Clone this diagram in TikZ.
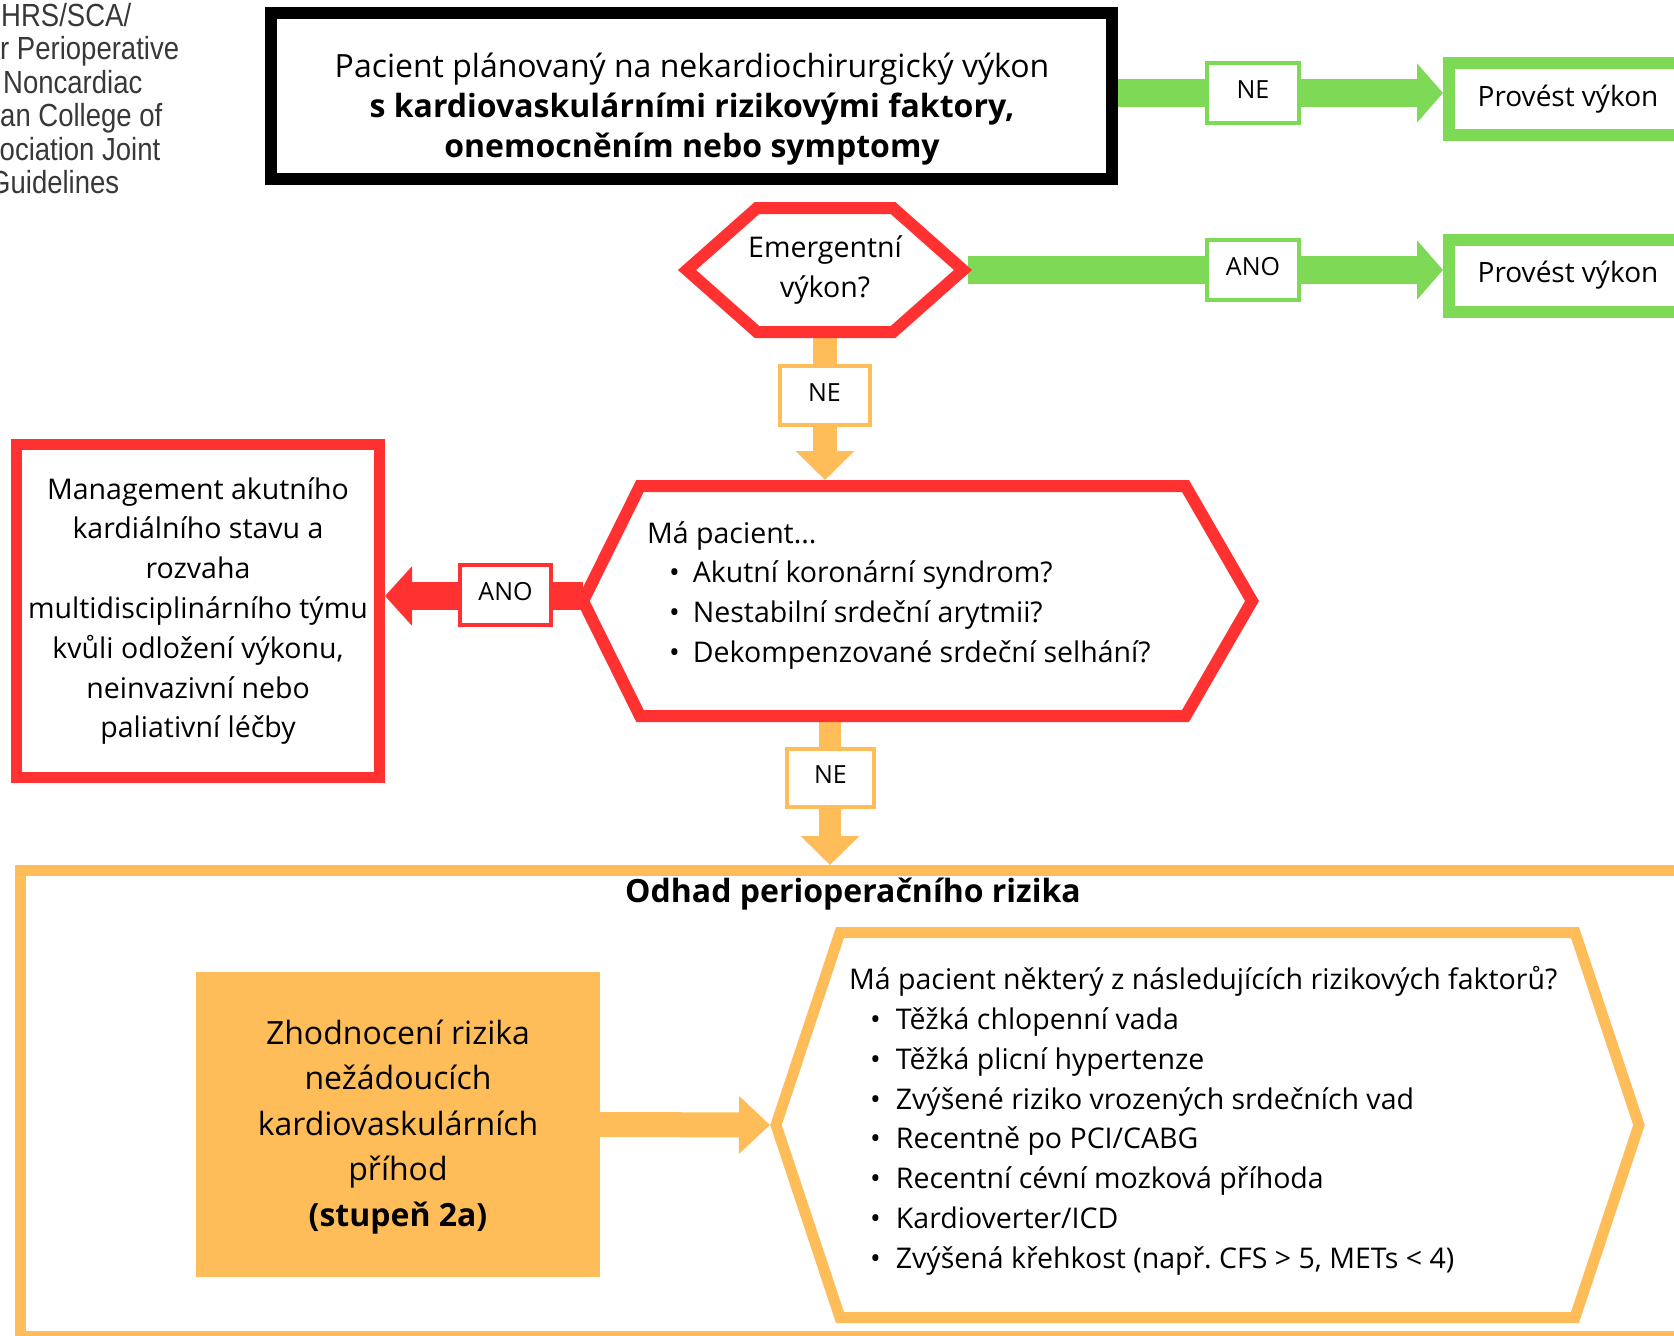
\documentclass[tikz,border=0pt]{standalone}
\usepackage{fontspec}
\setmainfont{Open Sans}
\newfontfamily\guidefont[FakeStretch=0.86]{Liberation Sans}
\usetikzlibrary{arrows.meta,calc}
\definecolor{cgreen}{HTML}{7ED957}
\definecolor{corange}{HTML}{FFBD59}
\definecolor{cred}{HTML}{FF3131}
\pgfdeclarelayer{bg}
\pgfsetlayers{bg,main}
\frenchspacing
\begin{document}
\begin{tikzpicture}[x=1pt,y=-1pt,line join=miter,
  lbl/.style={draw=#1, fill=white, line width=4pt, inner sep=0pt, minimum width=90pt, minimum height=59pt, text height=17.8pt, text depth=6pt, font=\fontsize{25}{30}\selectfont},
  guide/.style={anchor=base west, inner sep=0pt, text=black!78, font=\guidefont\fontsize{32}{33}\selectfont},
  body/.style={inner sep=0pt, font=\fontsize{28.5}{39.8}\selectfont},
  garr/.style={draw=cgreen, line width=28pt, -{Triangle[length=26pt,width=58pt]}},
  rarr/.style={draw=cred, line width=28pt, -{Triangle[length=27pt,width=58pt]}},
  oarr/.style={draw=corange, line width=#1, -{Triangle[length=29pt,width=57pt]}}
]
\useasboundingbox (0,0) rectangle (1674,1336);
\clip (0,0) rectangle (1674,1336);

% guideline caption (cut off at the left edge)
\node[guide] (g1) at (1,26) {HRS/SCA/};
\node[guide] (g2) at (0,59.5) {r Perioperative};
\node[guide] (g3) at (3,93) {Noncardiac};
\node[guide] (g4) at (0,126.5) {an College of};
\node[guide] (g5) at (-0.5,160) {ociation Joint};
\node[guide] (g6) at (-11,193.5) {Guidelines};

% top box
\node[draw=black, line width=12pt, minimum width=841pt, minimum height=166pt, inner sep=0pt] (top) at (691.5,96) {};
\node[inner sep=0pt, align=center, font=\fontsize{32}{40}\selectfont] (toptxt) at (692,109.3)
  {Pacient plánovaný na nekardiochirurgický výkon\\\textbf{s kardiovaskulárními rizikovými faktory,}\\\textbf{onemocněním nebo symptomy}};

% Provést boxes
\node[draw=cgreen, line width=12pt, minimum width=238pt, minimum height=72pt, inner sep=0pt, anchor=west, font=\fontsize{28}{36}\selectfont] (prov1) at (1443,99) {Provést výkon};
\node[draw=cgreen, line width=12pt, minimum width=238pt, minimum height=72pt, inner sep=0pt, anchor=west, font=\fontsize{28}{36}\selectfont] (prov2) at (1443,275.5) {Provést výkon};

% Emergentni hexagon
\draw[cred, line width=12pt, fill=white] (687,270) -- (757,208) -- (893,208) -- (963,270) -- (893,332) -- (757,332) -- cycle;
\node[body, align=center] (emerg) at (825,270) {Emergentní\\výkon?};
\coordinate (emR) at (968,270);
\coordinate (emB) at (825,332);

% Red hexagon
\draw[cred, line width=12pt, fill=white] (583,601) -- (640,486) -- (1185.5,486) -- (1252,601) -- (1185.5,716) -- (640,716) -- cycle;
\node[body, align=left, anchor=west] (mapac) at (647,595.2)
  {Má pacient...\\
   \hspace*{22pt}•\hspace*{13pt}Akutní koronární syndrom?\\
   \hspace*{22pt}•\hspace*{13pt}Nestabilní srdeční arytmii?\\
   \hspace*{22pt}•\hspace*{13pt}Dekompenzované srdeční selhání?};
\coordinate (rhT) at (825,480);
\coordinate (rhL) at (583,596);
\coordinate (rhB) at (830,716);

% Management box
\node[draw=cred, line width=11pt, minimum width=363pt, minimum height=333pt, inner sep=0pt, align=center, font=\fontsize{28.5}{39.8}\selectfont] (mgmt) at (198,611)
  {Management akutního\\kardiálního stavu a\\rozvaha\\multidisciplinárního týmu\\kvůli odložení výkonu,\\neinvazivní nebo\\paliativní léčby};

% Orange frame
\node[draw=corange, line width=11pt, minimum width=1690pt, minimum height=466pt, inner sep=0pt, anchor=north west] (frame) at (15,865) {};
\node[inner sep=0pt, font=\bfseries\fontsize{32}{38}\selectfont] (odhad) at (853,894) {Odhad perioperačního rizika};

% Zhodnoceni box
\node[fill=corange, minimum width=404pt, minimum height=305pt, inner sep=0pt, align=center, font=\fontsize{32}{45.5}\selectfont] (zh) at (398,1124.5) {};
\node[inner sep=0pt, align=center, font=\fontsize{32}{45.5}\selectfont] (zhtxt) at (398,1127)
  {Zhodnocení rizika\\nežádoucích\\kardiovaskulárních\\příhod\\\textbf{(stupeň 2a)}};

% Orange hexagon
\draw[corange, line width=11pt, fill=white] (776,1125) -- (840,932.5) -- (1575,932.5) -- (1639,1125) -- (1575,1317.5) -- (840,1317.5) -- cycle;
\coordinate (ohL) at (770,1125);
\node[body, align=left, anchor=west] (rf) at (849,1120.7)
  {Má pacient některý z následujících rizikových faktorů?\\
   \hspace*{21pt}•\hspace*{15pt}Těžká chlopenní vada\\
   \hspace*{21pt}•\hspace*{15pt}Těžká plicní hypertenze\\
   \hspace*{21pt}•\hspace*{15pt}Zvýšené riziko vrozených srdečních vad\\
   \hspace*{21pt}•\hspace*{15pt}Recentně po PCI/CABG\\
   \hspace*{21pt}•\hspace*{15pt}Recentní cévní mozková příhoda\\
   \hspace*{21pt}•\hspace*{15pt}Kardioverter/ICD\\
   \hspace*{21pt}•\hspace*{15pt}Zvýšená křehkost (např. CFS > 5, METs < 4)};

% labels
\node[lbl=cgreen, minimum width=92pt, minimum height=60pt] (ne1) at (1253,93) {NE};
\node[lbl=cgreen, minimum width=92pt, minimum height=60pt] (ano1) at (1253,270) {ANO};
\node[lbl=corange] (ne2) at (824.5,395.5) {NE};
\node[lbl=cred, minimum width=91pt, minimum height=60pt] (ano2) at (505.5,595) {ANO};
\node[lbl=corange, minimum width=87pt, minimum height=58pt] (ne3) at (830.5,778) {NE};

% connectors
\begin{pgfonlayer}{bg}
\draw[garr] (top.east |- ne1.center) -- (ne1.center -| prov1.west);
\draw[garr] (emR) -- (emR -| prov2.west);
\draw[oarr=24pt] (emB) -- (rhT);
\draw[rarr] (rhL) -- (rhL -| mgmt.east);
\draw[oarr=22pt] (rhB) -- (rhB |- frame.north);
\draw[draw=corange, line width=25pt, -{Triangle[length=31pt,width=56pt]}] (zh.east) -- (ohL);
\end{pgfonlayer}
\end{tikzpicture}
\end{document}
